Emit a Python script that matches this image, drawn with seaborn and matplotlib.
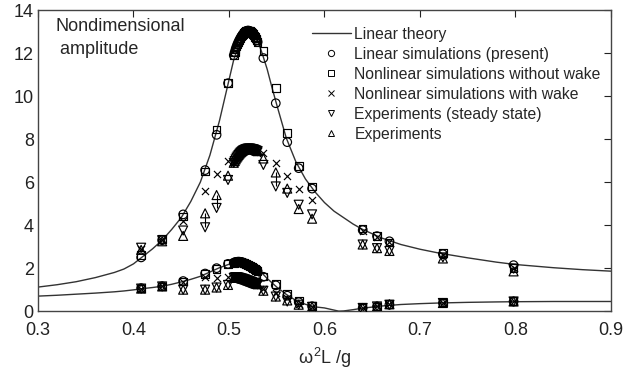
import numpy as np
import pandas as pd
import matplotlib
matplotlib.use("Agg")
import matplotlib.pyplot as plt
from matplotlib.lines import Line2D
import seaborn as sns

# ---------------- data ----------------
theory_x = [0.30, 0.32, 0.34, 0.36, 0.38, 0.39, 0.40, 0.41, 0.42, 0.43, 0.44, 0.45,
            0.46, 0.47, 0.48, 0.49, 0.50, 0.505, 0.51, 0.515, 0.52, 0.525, 0.53,
            0.535, 0.54, 0.545, 0.55, 0.56, 0.57, 0.58, 0.59, 0.60, 0.61, 0.615,
            0.62, 0.63, 0.64, 0.66, 0.68, 0.70, 0.72, 0.75, 0.78, 0.80, 0.84, 0.87, 0.90]
theory_upper = [1.12, 1.23, 1.37, 1.56, 1.8, 1.96, 2.2, 2.55, 2.9, 3.3, 3.8, 4.35,
                5.1, 6.0, 7.25, 8.85, 10.75, 11.7, 12.35, 12.8, 13.0, 12.95, 12.6,
                11.95, 11.25, 10.4, 9.6, 8.05, 6.95, 6.15, 5.55, 5.05, 4.65, 4.5,
                4.35, 4.05, 3.8, 3.4, 3.1, 2.88, 2.7, 2.48, 2.28, 2.17, 2.02, 1.93, 1.86]
theory_lower = [0.7, 0.74, 0.79, 0.84, 0.9, 0.94, 0.99, 1.05, 1.1, 1.16, 1.25, 1.36,
                1.48, 1.62, 1.82, 2.02, 2.18, 2.25, 2.29, 2.28, 2.22, 2.1, 1.95,
                1.75, 1.52, 1.32, 1.12, 0.78, 0.5, 0.32, 0.2, 0.15, 0.05, 0.0,
                0.01, 0.07, 0.14, 0.24, 0.31, 0.35, 0.38, 0.41, 0.43, 0.44, 0.45, 0.45, 0.45]

# discrete frequencies
freq = [0.408, 0.430, 0.452, 0.475, 0.487, 0.499, 0.536, 0.549, 0.561, 0.573,
        0.587, 0.640, 0.655, 0.668, 0.724, 0.798]
lin_sim_up = [2.5, 3.3, 4.5, 6.56, 8.2, 10.6, 11.77, 9.67, 7.86, 6.65, 5.7, 3.77, 3.49, 3.25, 2.65, 2.14]
nl_nowake_up = [2.6, 3.35, 4.4, 6.5, 8.45, 10.6, 12.1, 10.37, 8.28, 6.75, 5.8, 3.85, 3.5, 3.2, 2.7, 2.02]
nl_wake_up = [2.9, 3.3, 4.2, 5.6, 6.4, 7.0, 7.35, 6.9, 6.3, 5.67, 5.15, 3.75, 3.45, 3.2, 2.6, 2.0]
exp_ss_up = [2.95, 3.3, 3.75, 3.9, 4.8, 6.1, 6.8, 5.8, 5.5, 4.95, 4.5, 3.1, 2.93, 2.8, 2.5, 1.98]
exp_up = [2.85, 3.25, 3.5, 4.55, 5.4, 6.3, 7.1, 6.45, 5.7, 4.75, 4.3, 3.1, 2.93, 2.8, 2.45, 1.85]

lin_sim_lo = [1.07, 1.16, 1.4, 1.75, 2.0, 2.2, 1.6, 1.2, 0.72, 0.42, 0.23, 0.15, 0.22, 0.3, 0.38, 0.45]
nl_nowake_lo = [1.05, 1.15, 1.38, 1.72, 1.95, 2.18, 1.62, 1.25, 0.8, 0.5, 0.25, 0.15, 0.22, 0.32, 0.4, 0.47]
nl_wake_lo = [1.05, 1.15, 1.35, 1.6, 1.55, 1.6, 1.05, 0.85, 0.6, 0.35, 0.2, 0.15, 0.22, 0.32, 0.38, 0.45]
exp_ss_lo = [1.05, 1.15, 1.0, 1.0, 1.1, 1.22, 0.95, 0.68, 0.45, 0.3, 0.2, 0.15, 0.22, 0.3, 0.38, 0.45]
exp_lo = [1.05, 1.15, 1.0, 1.0, 1.1, 1.22, 0.95, 0.68, 0.5, 0.3, 0.2, 0.15, 0.22, 0.32, 0.38, 0.45]

# dense simulation runs near resonance
cluster_x = [0.505, 0.506, 0.507, 0.508, 0.509, 0.510, 0.511, 0.512, 0.513,
             0.514, 0.515, 0.516, 0.517, 0.518, 0.519, 0.520, 0.521, 0.522,
             0.523, 0.524, 0.525, 0.526, 0.527, 0.528, 0.529, 0.530]
cl_sim_up = [11.9, 12.05, 12.2, 12.32, 12.43, 12.53, 12.62, 12.7, 12.78,
             12.85, 12.9, 12.95, 13.0, 13.02, 13.04, 13.05, 13.04, 13.02,
             12.98, 12.94, 12.88, 12.82, 12.75, 12.68, 12.6, 12.52]
cl_wake_up = [6.9, 6.98, 7.06, 7.14, 7.2, 7.26, 7.32, 7.37, 7.41,
              7.45, 7.48, 7.5, 7.52, 7.54, 7.55, 7.56, 7.56, 7.56,
              7.55, 7.54, 7.53, 7.52, 7.5, 7.48, 7.46, 7.44]
cl_sim_lo = [2.25, 2.27, 2.28, 2.29, 2.3, 2.3, 2.3, 2.29, 2.28,
             2.27, 2.25, 2.23, 2.21, 2.19, 2.17, 2.15, 2.12, 2.1,
             2.07, 2.04, 2.01, 1.98, 1.95, 1.92, 1.89, 1.86]
cl_wake_lo = [1.55, 1.57, 1.58, 1.58, 1.57, 1.56, 1.55, 1.54, 1.52,
              1.51, 1.5, 1.48, 1.47, 1.45, 1.43, 1.42, 1.4, 1.38,
              1.37, 1.35, 1.33, 1.31, 1.3, 1.28, 1.27, 1.25]

labels = ["Linear theory", "Linear simulations (present)",
          "Nonlinear simulations without wake", "Nonlinear simulations with wake",
          "Experiments (steady state)", "Experiments"]
x_ticks = [0.3, 0.4, 0.5, 0.6, 0.7, 0.8, 0.9]
y_ticks = [0, 2, 4, 6, 8, 10, 12, 14]

# ---------------- plot ----------------
sns.set_style("white")
plt.rcParams["font.family"] = ["Liberation Sans", "DejaVu Sans"]
plt.rcParams["mathtext.fontset"] = "custom"
plt.rcParams["mathtext.rm"] = "Liberation Sans"
plt.rcParams["mathtext.it"] = "Liberation Sans"
plt.rcParams["mathtext.bf"] = "Liberation Sans:bold"

fig = plt.figure(figsize=(6.26, 3.74), dpi=100)
ax = fig.add_axes([0.0607, 0.168, 0.9153, 0.805])

lc = "#333333"
for ys in (theory_upper, theory_lower):
    sns.lineplot(x=theory_x, y=ys, ax=ax, color=lc, lw=1.0, sort=False,
                 estimator=None, legend=False)

ew = 0.85
def open_scatter(x, y, marker, s):
    sns.scatterplot(x=x, y=y, ax=ax, marker=marker, s=s, facecolors="none",
                    edgecolor="black", linewidths=ew, legend=False, zorder=3)

def cross_scatter(x, y, s=26):
    sns.scatterplot(x=x, y=y, ax=ax, marker="x", s=s, color="black",
                    linewidths=ew, legend=False, zorder=3)

S_O, S_S, S_T = 38, 30, 42

# vertical bars between experiments
for xi, a, b in zip(freq, exp_up, exp_ss_up):
    if abs(a - b) > 0.3:
        ax.vlines(xi, min(a, b), max(a, b), color="black", lw=0.8, zorder=2)

for lin, nw, w, ess, ex in ((lin_sim_up, nl_nowake_up, nl_wake_up, exp_ss_up, exp_up),
                            (lin_sim_lo, nl_nowake_lo, nl_wake_lo, exp_ss_lo, exp_lo)):
    open_scatter(freq, lin, "o", S_O)
    open_scatter(freq, nw, "s", S_S)
    cross_scatter(freq, w)
    open_scatter(freq, ess, "v", S_T)
    open_scatter(freq, ex, "^", S_T)

for ys in (cl_sim_up, cl_sim_lo):
    open_scatter(cluster_x, ys, "o", S_O)
    open_scatter(cluster_x, ys, "s", S_S)
for ys in (cl_wake_up, cl_wake_lo):
    open_scatter(cluster_x, ys, "^", S_T)
    open_scatter(cluster_x, ys, "v", S_T)
    cross_scatter(cluster_x, ys)

ax.set_xlim(0.3, 0.9)
ax.set_ylim(0, 14)
ax.set_xticks(x_ticks)
ax.set_yticks(y_ticks)
ax.set_xticklabels([f"{v:.1f}" for v in x_ticks])
ax.tick_params(direction="in", length=5, width=0.8, top=True, right=True,
               labelsize=13, colors="#222222", pad=3)
ax.tick_params(axis="x", pad=8)
for sp in ax.spines.values():
    sp.set_color("#444444")
    sp.set_linewidth(1.0)
    sp.set_visible(True)

ax.set_xlabel(r"$\omega^{2}$L /g", fontsize=13, labelpad=5)
ax.set_ylabel("")

ax.text(0.03, 0.975, "Nondimensional\n amplitude", transform=ax.transAxes,
        fontsize=13, va="top", ha="left", linespacing=1.5)

handles = [Line2D([], [], color=lc, lw=1.0),
           Line2D([], [], ls="none", marker="o", mfc="none", mec="black", ms=4.5, mew=0.7),
           Line2D([], [], ls="none", marker="s", mfc="none", mec="black", ms=4, mew=0.7),
           Line2D([], [], ls="none", marker="x", color="black", ms=4, mew=0.7),
           Line2D([], [], ls="none", marker="v", mfc="none", mec="black", ms=5, mew=0.7),
           Line2D([], [], ls="none", marker="^", mfc="none", mec="black", ms=5, mew=0.7)]
ax.legend(handles, labels, loc="upper left", bbox_to_anchor=(0.478, 0.945),
          frameon=False, fontsize=11.3, borderpad=0, handlelength=2.5,
          handletextpad=0.2, labelspacing=0.32, borderaxespad=0)

fig.savefig("out.png", dpi=100)
